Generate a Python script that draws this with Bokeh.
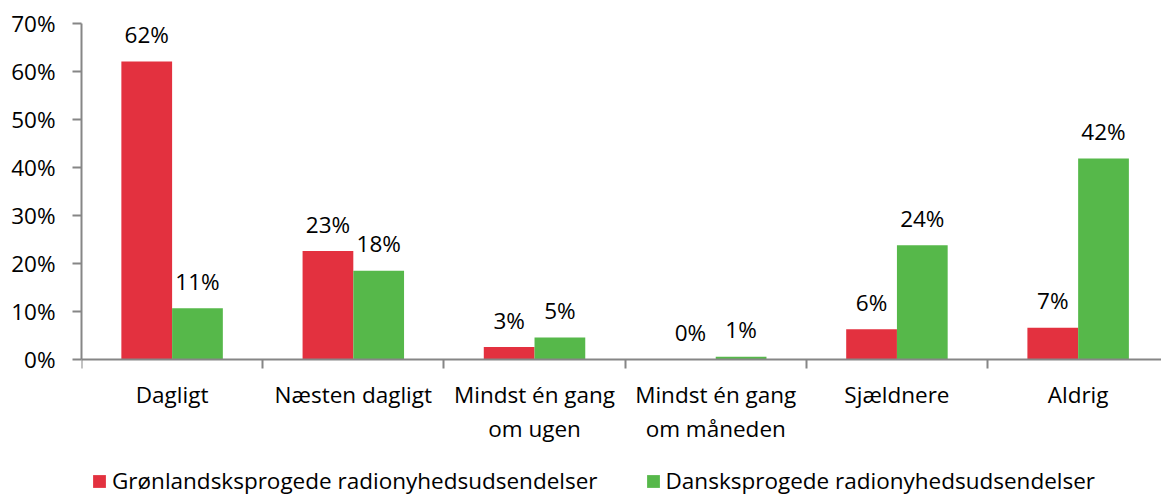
from bokeh.plotting import figure
from bokeh.models import (FixedTicker, PrintfTickFormatter, Range1d, ColumnDataSource,
                          Legend, LegendItem, LinearAxis)
from bokeh.core.properties import value
from bokeh.embed import file_html
from bokeh.resources import INLINE

categories = ["Dagligt", "Næsten dagligt", "Mindst én gang\nom ugen",
              "Mindst én gang\nom måneden", "Sjældnere", "Aldrig"]
series_names = ["Grønlandsksprogede radionyhedsudsendelser",
                "Dansksprogede radionyhedsudsendelser"]
greenlandic = [62.1, 22.6, 2.6, 0.0, 6.3, 6.6]
danish = [10.7, 18.5, 4.6, 0.6, 23.8, 41.9]
y_ticks = [0, 10, 20, 30, 40, 50, 60, 70]

RED = "#E3313F"
GREEN = "#56B84A"
AXIS = "#868686"
FONT = "Open Sans"
FS = "22.5px"

n = len(categories)
centers = [i + 0.5 for i in range(n)]
bw = 0.28

# frame reaches to the bottom of the page so the legend can sit inside it
p = figure(frame_width=1080, frame_height=473, output_backend="svg", toolbar_location=None,
           x_range=Range1d(0, 5.96), y_range=Range1d(-28.54, 70),
           min_border_left=81, min_border_right=0, min_border_top=23,
           min_border_bottom=0, x_axis_location=None, y_axis_location=None)
p.outline_line_color = None
p.xgrid.visible = False
p.ygrid.visible = False

src_r = ColumnDataSource(dict(x=[c - bw / 2 for c in centers], top=greenlandic,
                              lab=[f"{round(v)}%" for v in greenlandic]))
src_g = ColumnDataSource(dict(x=[c + bw / 2 for c in centers], top=danish,
                              lab=[f"{round(v)}%" for v in danish]))
r1 = p.vbar(x="x", top="top", width=bw, bottom=0, source=src_r, fill_color=RED, line_color=None)
r2 = p.vbar(x="x", top="top", width=bw, bottom=0, source=src_g, fill_color=GREEN, line_color=None)
for s in (src_r, src_g):
    p.text(x="x", y="top", text="lab", source=s, text_align="center",
           text_baseline="alphabetic", y_offset=-27, text_font=value(FONT),
           text_font_size=FS, text_color="#000000")

ya = LinearAxis(ticker=FixedTicker(ticks=y_ticks), formatter=PrintfTickFormatter(format="%d%%"),
                bounds=(0, 70))
ya.axis_line_color = AXIS
ya.axis_line_width = 2
ya.major_tick_line_color = AXIS
ya.major_tick_line_width = 2
ya.major_tick_out = 9
ya.major_tick_in = 0
ya.minor_tick_line_color = None
ya.major_label_standoff = 17
ya.major_label_text_font = FONT
ya.major_label_text_font_size = FS
ya.major_label_text_color = "#000000"
p.add_layout(ya, "left")

xa = LinearAxis(ticker=FixedTicker(ticks=centers, minor_ticks=list(range(n + 1))),
                fixed_location=0)
xa.major_label_overrides = {c: lab for c, lab in zip(centers, categories)}
xa.axis_line_color = AXIS
xa.axis_line_width = 2
xa.major_tick_line_color = None
xa.major_tick_out = 0
xa.major_tick_in = 0
xa.minor_tick_line_color = AXIS
xa.minor_tick_line_width = 2
xa.minor_tick_out = 9
xa.minor_tick_in = 0
xa.major_label_standoff = 10
xa.major_label_text_font = FONT
xa.major_label_text_font_size = FS
xa.major_label_text_color = "#000000"
xa.major_label_text_line_height = 1.1
p.add_layout(xa, "below")

legend = Legend(items=[LegendItem(label=series_names[0], renderers=[r1]),
                       LegendItem(label=series_names[1], renderers=[r2])],
                orientation="horizontal", location=(10, 0),
                label_text_font=FONT, label_text_font_size=FS, label_text_color="#000000",
                glyph_width=16, glyph_height=16, label_standoff=5, spacing=47,
                border_line_color=None, background_fill_alpha=0, padding=0, margin=0)
p.add_layout(legend, "center")

open("out.html", "w").write(file_html(p, INLINE))
